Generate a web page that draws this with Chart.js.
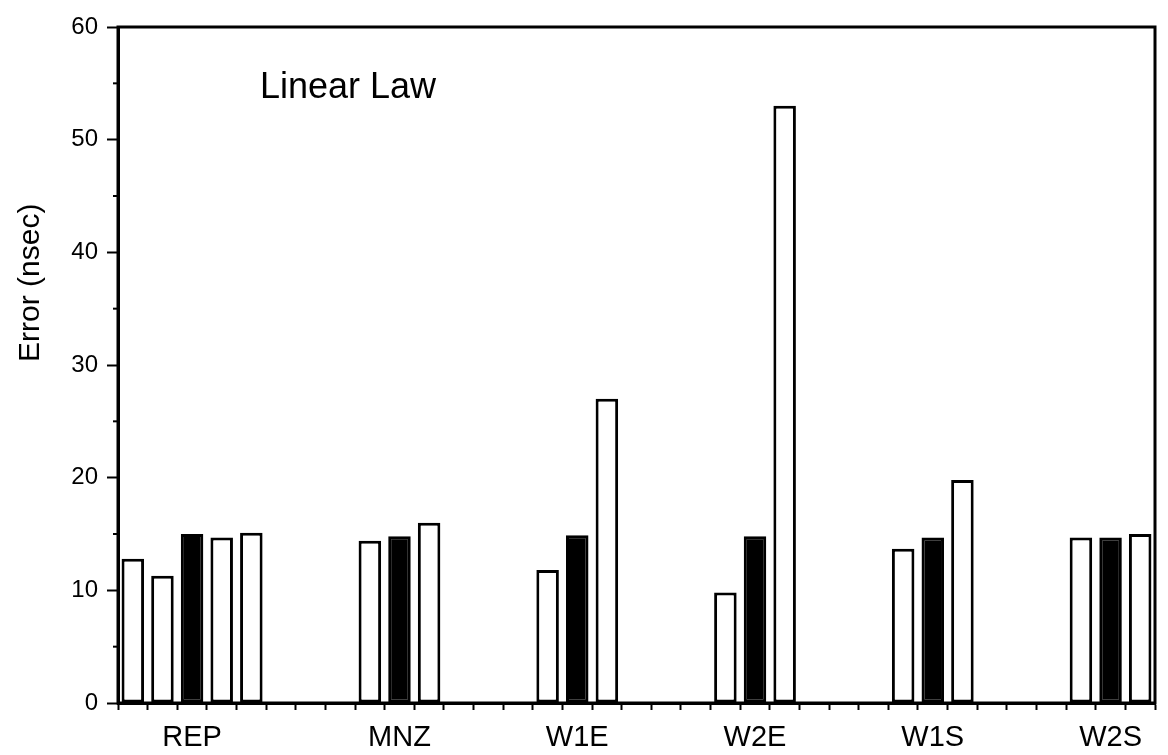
<!DOCTYPE html>
<html>
<head>
<meta charset="utf-8">
<script src="https://cdn.jsdelivr.net/npm/chart.js@4.4.1/dist/chart.umd.min.js"></script>
<style>
  html, body { margin: 0; padding: 0; background: #ffffff; }
  canvas { display: block; }
</style>
</head>
<body>
<canvas id="chart" width="1168" height="755"></canvas>
<script>
// Station groups along the x axis
const groups = ['REP', 'MNZ', 'W1E', 'W2E', 'W1S', 'W2S'];

// Error (nsec) for each bar, left to right within a group
const repErr = [12.8, 11.3, 15.0, 14.7, 15.1];
const mnzErr = [14.4, 14.8, 16.0];
const w1eErr = [11.8, 14.9, 27.0];
const w2eErr = [9.8, 14.8, 53.0];
const w1sErr = [13.7, 14.7, 19.8];
const w2sErr = [14.7, 14.7, 15.0];

// Bar shading within each group (open / solid)
const repShade = ['open', 'open', 'solid', 'open', 'open'];
const trioShade = ['open', 'solid', 'open'];

// Y axis ticks
const yMajorTicks = [0, 10, 20, 30, 40, 50, 60];
const yMinorTicks = [5, 15, 25, 35, 45, 55];

const chartTitle = 'Linear Law';
const yAxisTitle = 'Error (nsec)';

// Empty slots between neighbouring groups
const gapSlots = 3;

const groupValues = [repErr, mnzErr, w1eErr, w2eErr, w1sErr, w2sErr];
const groupShades = [repShade, trioShade, trioShade, trioShade, trioShade, trioShade];

// One category per slot; the group name sits under its middle bar
const slotLabels = [];
const slotValues = [];
const slotFills = [];
groupValues.forEach((vals, g) => {
  if (g > 0) {
    for (let i = 0; i < gapSlots; i++) {
      slotLabels.push('');
      slotValues.push(null);
      slotFills.push('#ffffff');
    }
  }
  const mid = Math.floor(vals.length / 2);
  vals.forEach((v, i) => {
    slotLabels.push(i === mid ? groups[g] : '');
    slotValues.push(v);
    slotFills.push(groupShades[g][i] === 'solid' ? '#000000' : '#ffffff');
  });
});

const FONT = "'Liberation Sans', Arial, Helvetica, sans-serif";
Chart.defaults.font.family = FONT;
Chart.defaults.color = '#000000';

// Frame, short minor ticks on the y axis, and the in-plot texts
const decorations = {
  id: 'decorations',
  afterDraw(chart) {
    const { ctx, chartArea: a, scales } = chart;
    ctx.save();
    ctx.strokeStyle = '#000000';
    ctx.lineWidth = 3;
    ctx.strokeRect(a.left, a.top, a.right - a.left, a.bottom - a.top);

    ctx.lineWidth = 2;
    yMinorTicks.forEach(v => {
      const y = scales.y.getPixelForValue(v);
      ctx.beginPath();
      ctx.moveTo(a.left - 5, y);
      ctx.lineTo(a.left, y);
      ctx.stroke();
    });

    ctx.fillStyle = '#000000';
    ctx.font = '36px ' + FONT;
    ctx.textAlign = 'left';
    ctx.textBaseline = 'alphabetic';
    ctx.fillText(chartTitle, a.left + 142, a.top + 71);

    ctx.font = '30px ' + FONT;
    ctx.translate(39, scales.y.getPixelForValue(37.3));
    ctx.rotate(-Math.PI / 2);
    ctx.textAlign = 'center';
    ctx.fillText(yAxisTitle, 0, 0);
    ctx.restore();
  }
};

new Chart(document.getElementById('chart'), {
  type: 'bar',
  data: {
    labels: slotLabels,
    datasets: [{
      data: slotValues,
      backgroundColor: slotFills,
      borderColor: '#000000',
      borderWidth: 3,
      borderSkipped: false,
      barPercentage: 0.76,
      categoryPercentage: 1.0
    }]
  },
  options: {
    responsive: false,
    animation: false,
    devicePixelRatio: 1,
    layout: { padding: { top: 27, right: 13, left: 0, bottom: 0 } },
    plugins: {
      legend: { display: false },
      tooltip: { enabled: false }
    },
    scales: {
      x: {
        type: 'category',
        offset: true,
        grid: {
          offset: true,
          drawOnChartArea: false,
          drawTicks: true,
          tickLength: 7,
          tickColor: '#000000',
          tickWidth: 2
        },
        border: { display: true, color: '#000000', width: 3 },
        ticks: {
          autoSkip: false,
          maxRotation: 0,
          minRotation: 0,
          padding: 11,
          color: '#000000',
          font: { size: 29, family: FONT }
        },
        afterFit(scale) { scale.height = 52; }
      },
      y: {
        min: 0,
        max: 60,
        afterBuildTicks(scale) {
          scale.ticks = yMajorTicks.map(v => ({ value: v }));
        },
        grid: {
          drawOnChartArea: false,
          drawTicks: true,
          tickLength: 11,
          tickColor: '#000000',
          tickWidth: 2
        },
        border: { display: true, color: '#000000', width: 3 },
        ticks: {
          padding: 9,
          color: '#000000',
          font: { size: 24, family: FONT }
        },
        afterFit(scale) { scale.width = 118; }
      }
    }
  },
  plugins: [decorations]
});
</script>
</body>
</html>
